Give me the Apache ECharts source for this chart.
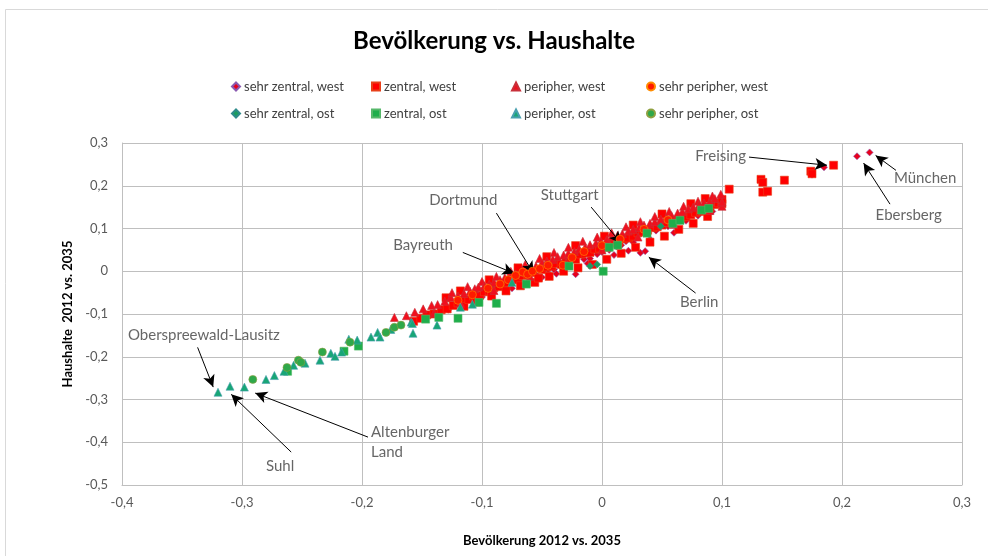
<!DOCTYPE html>
<html><head><meta charset="utf-8">
<script src="https://cdn.jsdelivr.net/npm/echarts@6/dist/echarts.min.js"></script>
<style>html,body{margin:0;padding:0;background:#fff}#c{width:988px;height:556px}</style>
</head><body><div id="c"></div>
<script>
// ---- categories (legend names) ----
const categories = ['sehr zentral, west','zentral, west','peripher, west','sehr peripher, west',
                    'sehr zentral, ost','zentral, ost','peripher, ost','sehr peripher, ost'];

// ---- series values [Bevölkerung 2012 vs. 2035, Haushalte 2012 vs. 2035] ----
const sehrZentralWest = [[-0.128,-0.09],[-0.1,-0.06],[-0.08,-0.035],[-0.075,-0.04],[-0.068,-0.022],[-0.055,-0.008],[-0.05,-0.014],[-0.045,-0.004],[-0.04,0.004],[-0.038,-0.006],[-0.033,0.01],[-0.028,0.018],[-0.022,-0.007],[-0.015,0.028],[-0.012,0.018],[-0.01,0.03],[-0.004,0.04],[0.0,0.045],[0.006,0.05],[0.01,0.038],[0.012,0.058],[0.016,0.061],[0.02,0.07],[0.022,0.048],[0.026,0.068],[0.032,0.043],[0.036,0.047],[0.04,0.075],[0.045,0.095],[0.055,0.105],[0.06,0.09],[0.07,0.118],[0.08,0.13],[0.092,0.14],[0.175,0.226],[0.185,0.243],[0.2125,0.269],[0.223,0.278]];
const zentralWest = [[-0.157,-0.117],[-0.151,-0.11],[-0.146,-0.102],[-0.14,-0.1],[-0.134,-0.09],[-0.13,-0.062],[-0.129,-0.088],[-0.124,-0.08],[-0.12,-0.074],[-0.118,-0.046],[-0.116,-0.068],[-0.115,-0.082],[-0.111,-0.066],[-0.107,-0.058],[-0.105,-0.072],[-0.102,-0.056],[-0.098,-0.048],[-0.094,-0.046],[-0.094,-0.02],[-0.092,-0.058],[-0.09,-0.038],[-0.086,-0.036],[-0.082,-0.028],[-0.08,-0.046],[-0.078,-0.026],[-0.074,-0.018],[-0.07,-0.02],[-0.07,0.008],[-0.068,-0.034],[-0.066,-0.01],[-0.062,-0.008],[-0.058,-0.003],[-0.056,-0.026],[-0.053,-0.016],[-0.05,0.004],[-0.046,0.01],[-0.046,0.034],[-0.044,-0.012],[-0.042,0.012],[-0.038,0.018],[-0.034,0.016],[-0.032,0.0],[-0.03,0.026],[-0.026,0.03],[-0.022,0.028],[-0.022,0.06],[-0.02,0.008],[-0.018,0.04],[-0.014,0.042],[-0.01,0.044],[-0.008,0.016],[-0.006,0.052],[-0.002,0.054],[0.002,0.056],[0.002,0.082],[0.004,0.028],[0.006,0.064],[0.01,0.066],[0.014,0.07],[0.016,0.042],[0.018,0.076],[0.022,0.078],[0.026,0.082],[0.026,0.108],[0.028,0.056],[0.03,0.09],[0.034,0.092],[0.038,0.096],[0.04,0.068],[0.042,0.102],[0.046,0.104],[0.05,0.108],[0.05,0.134],[0.052,0.082],[0.054,0.114],[0.058,0.116],[0.062,0.12],[0.064,0.098],[0.066,0.126],[0.07,0.128],[0.074,0.132],[0.074,0.158],[0.076,0.112],[0.078,0.138],[0.082,0.14],[0.086,0.146],[0.086,0.17],[0.088,0.128],[0.09,0.15],[0.094,0.156],[0.097,0.16],[0.1,0.158],[0.1,0.168],[0.106,0.192],[0.1325,0.215],[0.134,0.208],[0.134,0.185],[0.138,0.187],[0.152,0.213],[0.174,0.234],[0.175,0.228],[0.193,0.248]];
const peripherWest = [[-0.173,-0.108],[-0.163,-0.104],[-0.156,-0.096],[-0.149,-0.088],[-0.142,-0.08],[-0.14,-0.098],[-0.137,-0.078],[-0.131,-0.07],[-0.126,-0.061],[-0.125,-0.05],[-0.12,-0.058],[-0.118,-0.075],[-0.115,-0.052],[-0.112,-0.036],[-0.11,-0.047],[-0.106,-0.041],[-0.103,-0.037],[-0.1,-0.024],[-0.098,-0.034],[-0.094,-0.03],[-0.09,-0.026],[-0.09,-0.045],[-0.088,-0.012],[-0.085,-0.02],[-0.081,-0.015],[-0.077,-0.012],[-0.076,0.0],[-0.072,-0.006],[-0.068,-0.002],[-0.064,0.016],[-0.063,0.004],[-0.06,-0.012],[-0.059,0.01],[-0.055,0.012],[-0.052,0.03],[-0.05,0.02],[-0.046,0.024],[-0.041,0.028],[-0.04,0.044],[-0.037,0.034],[-0.032,0.038],[-0.03,0.02],[-0.028,0.042],[-0.028,0.056],[-0.023,0.046],[-0.019,0.052],[-0.016,0.07],[-0.014,0.056],[-0.01,0.062],[-0.005,0.066],[-0.004,0.08],[-0.001,0.07],[0.0,0.05],[0.004,0.074],[0.008,0.08],[0.008,0.09],[0.013,0.084],[0.017,0.088],[0.02,0.104],[0.022,0.094],[0.026,0.098],[0.03,0.08],[0.031,0.102],[0.032,0.116],[0.035,0.108],[0.04,0.112],[0.044,0.116],[0.044,0.128],[0.049,0.122],[0.054,0.126],[0.056,0.14],[0.058,0.13],[0.06,0.11],[0.063,0.136],[0.067,0.14],[0.068,0.152],[0.072,0.146],[0.076,0.15],[0.08,0.164],[0.081,0.156],[0.085,0.16],[0.09,0.164],[0.09,0.142],[0.092,0.176],[0.094,0.17],[0.099,0.18],[0.1,0.152],[0.1,0.162]];
const sehrPeripherWest = [[-0.12,-0.068],[-0.108,-0.055],[-0.095,-0.04],[-0.085,-0.03],[-0.078,-0.02],[-0.072,-0.01],[-0.066,-0.002],[-0.062,-0.007],[-0.058,0.0],[-0.052,0.006],[-0.045,0.014],[-0.0325,0.014],[-0.025,0.032],[-0.015,0.046],[0.0,0.06],[0.015,0.075],[0.035,0.098],[0.055,0.12]];
const sehrZentralOst = [[-0.01,0.012],[-0.004,0.016],[0.049,0.105]];
const zentralOst = [[-0.262,-0.234],[-0.215,-0.187],[-0.203,-0.175],[-0.147,-0.112],[-0.136,-0.108],[-0.12,-0.11],[-0.1025,-0.073],[-0.088,-0.075],[-0.063,-0.03],[-0.0275,0.012],[0.001,0.0],[0.006,0.056],[0.013,0.061],[0.0375,0.089],[0.059,0.112],[0.065,0.119],[0.083,0.143],[0.089,0.147]];
const peripherOst = [[-0.32,-0.283],[-0.31,-0.269],[-0.298,-0.271],[-0.28,-0.253],[-0.273,-0.244],[-0.265,-0.234],[-0.257,-0.22],[-0.2475,-0.215],[-0.235,-0.208],[-0.226,-0.192],[-0.2225,-0.199],[-0.217,-0.189],[-0.211,-0.159],[-0.204,-0.161],[-0.1925,-0.154],[-0.187,-0.143],[-0.185,-0.154],[-0.176,-0.136],[-0.159,-0.119],[-0.158,-0.122],[-0.1575,-0.145],[-0.1375,-0.126],[-0.118,-0.084],[-0.108,-0.077],[-0.075,-0.026]];
const sehrPeripherOst = [[-0.291,-0.253],[-0.2625,-0.225],[-0.253,-0.208],[-0.251,-0.213],[-0.233,-0.189],[-0.21,-0.166],[-0.18,-0.143],[-0.173,-0.131],[-0.1675,-0.126]];

// ---- tick values ----
const xTicks = [-0.4,-0.3,-0.2,-0.1,0,0.1,0.2,0.3];
const yTicks = [-0.5,-0.4,-0.3,-0.2,-0.1,0,0.1,0.2,0.3];

// ---- annotations: name, text anchor, arrow tail, arrow head ----
const annotNames  = ['Freising','München','Ebersberg','Stuttgart','Dortmund','Bayreuth','Berlin','Oberspreewald-Lausitz','Suhl','Altenburger\nLand'];
const annotText   = [[0.12,0.269],[0.2433,0.2175],[0.228,0.131],[-0.051,0.178],[-0.144,0.166],[-0.174,0.061],[0.065,-0.0725],[-0.395,-0.15],[-0.28,-0.456],[-0.1925,-0.4]];
const annotFrom   = [[0.1225,0.267],[0.245,0.236],[0.24,0.157],[-0.009,0.15],[-0.088,0.136],[-0.116,0.044],[0.078,-0.051],[-0.337,-0.178],[-0.259,-0.423],[-0.195,-0.388]];
const annotTo     = [[0.1875,0.248],[0.228,0.271],[0.218,0.253],[0.016,0.065],[-0.057,-0.005],[-0.073,-0.005],[0.039,0.033],[-0.324,-0.271],[-0.309,-0.288],[-0.289,-0.285]];

const dataSets = [sehrZentralWest, zentralWest, peripherWest, sehrPeripherWest, sehrZentralOst, zentralOst, peripherOst, sehrPeripherOst];
const symbols  = ['diamond','rect','triangle','circle','diamond','rect','triangle','circle'];
const sizes    = [7,8,8,8,7,8,8,8];
const fills    = ['#E8001C','#FF0000','#F0101E','#FF1A00','#1B9E5E','#1FAE4B','#18A676','#2EA84A'];
const borders  = ['#8A5AB0','#E8401A','#C8303A','#FF8C00','#2E8B8B','#56B86A','#4AA0B0','#8FA040'];

const fnt = 'Lato, "Open Sans", sans-serif';
const fmt = v => String(Math.round(v*10)/10).replace('.', ',');

const series = dataSets.map((d,i)=>({
  name: categories[i], type:'scatter', data:d, symbol:symbols[i], symbolSize:sizes[i],
  itemStyle:{color:fills[i], borderColor:borders[i], borderWidth:0.6, opacity:1},
  silent:true, z:2+i
}));
series.push({
  name:'arrows', type:'scatter', data:[], silent:true, z:20,
  markLine:{ silent:true, animation:false, symbol:['none','arrow'], symbolSize:[9,12],
    lineStyle:{color:'#000', width:1, type:'solid'}, label:{show:false},
    data: annotFrom.map((f,i)=>[{coord:f},{coord:annotTo[i]}]) }
});
series.push({
  name:'labels', type:'scatter', symbolSize:0, silent:true, z:21,
  data: annotNames.map((n,i)=>({value:annotText[i], name:n,
     label:{align: i===0 ? 'right':'left'}})),
  label:{show:true, position:[0,0], formatter:p=>p.name, verticalAlign:'middle',
     color:'#404040', fontSize:15, fontFamily:fnt, lineHeight:20}
});

const legX = [226,366,506,641], legY = [75,102];
const legends = categories.map((c,i)=>({
  data:[c], left:legX[i%4], top:legY[Math.floor(i/4)], itemWidth:8, itemHeight:8, itemGap:4,
  textStyle:{fontSize:13, color:'#404040', fontFamily:fnt, padding:[0,0,0,-1]}, selectedMode:false
}));

const chart = echarts.init(document.getElementById('c'), null, {renderer:'canvas'});
chart.setOption({
  animation:false, backgroundColor:'#fff',
  title:{text:'Bevölkerung vs. Haushalte', left:'center', top:24,
    textStyle:{fontSize:24, fontWeight:'bold', color:'#000', fontFamily:fnt}},
  legend: legends,
  graphic:[{type:'rect', shape:{x:5.5,y:9.5,width:1000,height:600}, style:{fill:'none', stroke:'#D9D9D9', lineWidth:1}, silent:true, z:-1}],
  grid:{left:122, right:26, top:143, bottom:71},
  xAxis:{type:'value', min:xTicks[0], max:xTicks[xTicks.length-1], interval:0.1,
    axisLine:{onZero:false, lineStyle:{color:'#BFBFBF'}}, axisTick:{show:false},
    splitLine:{lineStyle:{color:'#BFBFBF', width:1}},
    axisLabel:{formatter:fmt, color:'#595959', fontSize:13, fontFamily:fnt, margin:11},
    name:'Bevölkerung 2012 vs. 2035', nameLocation:'middle', nameGap:49,
    nameTextStyle:{fontWeight:'bold', fontSize:13, color:'#000', fontFamily:fnt}},
  yAxis:{type:'value', min:yTicks[0], max:yTicks[yTicks.length-1], interval:0.1,
    axisLine:{show:true, onZero:false, lineStyle:{color:'#BFBFBF'}}, axisTick:{show:false},
    splitLine:{lineStyle:{color:'#BFBFBF', width:1}},
    axisLabel:{formatter:fmt, color:'#595959', fontSize:13, fontFamily:fnt, margin:14},
    name:'Haushalte  2012 vs. 2035', nameLocation:'middle', nameGap:41,
    nameTextStyle:{fontWeight:'bold', fontSize:13, color:'#000', fontFamily:fnt}},
  series: series
});
</script></body></html>
